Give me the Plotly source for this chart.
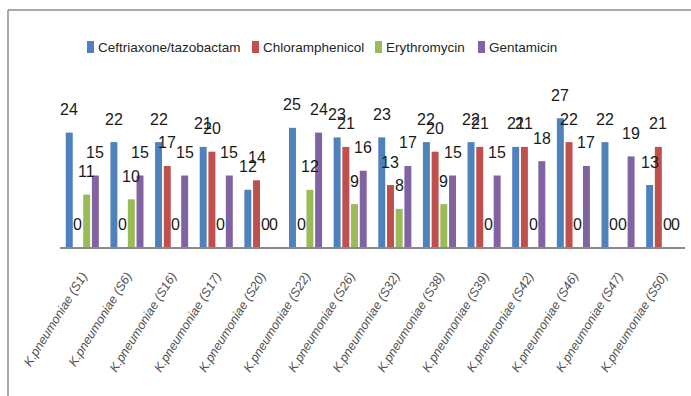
import plotly.graph_objects as go

# Isolates and zone-of-inhibition values (mm) per antibiotic
isolates = [
    "K.pneumoniae (S1)", "K.pneumoniae (S6)", "K.pneumoniae (S16)",
    "K.pneumoniae (S17)", "K.pneumoniae (S20)", "K.pneumoniae (S22)",
    "K.pneumoniae (S26)", "K.pneumoniae (S32)", "K.pneumoniae (S38)",
    "K.pneumoniae (S39)", "K.pneumoniae (S42)", "K.pneumoniae (S46)",
    "K.pneumoniae (S47)", "K.pneumoniae (S50)",
]
antibiotics = ["Ceftriaxone/tazobactam", "Chloramphenicol", "Erythromycin", "Gentamicin"]
ceftriaxone_tazobactam = [24, 22, 22, 21, 12, 25, 23, 23, 22, 22, 21, 27, 22, 13]
chloramphenicol = [0, 0, 17, 20, 14, 0, 21, 13, 20, 21, 21, 22, 0, 21]
erythromycin = [11, 10, 0, 0, 0, 12, 9, 8, 9, 0, 0, 0, 0, 0]
gentamicin = [15, 15, 15, 15, 0, 24, 16, 17, 15, 15, 18, 17, 19, 0]

series = [ceftriaxone_tazobactam, chloramphenicol, erythromycin, gentamicin]
colors = ["#4F81BD", "#C0504D", "#9BBB59", "#8064A2"]

FONT = "Liberation Sans, Arial, sans-serif"
BAR_GAP = 0.22
GROUP_GAP = 0.2

# plot-area geometry in pixels (used to place the legend and frame in paper units)
W, H = 691, 396
M_L, M_R, M_T, M_B = 60, 6, 104, 149
PW, PH = W - M_L - M_R, H - M_T - M_B


def px_x(px):
    return (px - M_L) / PW


def px_y(py):
    return (H - M_B - py) / PH


fig = go.Figure()
for name, vals, col in zip(antibiotics, series, colors):
    fig.add_trace(go.Bar(name=name, x=isolates, y=vals, marker_color=col,
                         marker_line_width=0, showlegend=False))

# value labels centred over each bar of the group
slot = (1 - BAR_GAP) / len(series)
annotations = []
for k, vals in enumerate(series):
    off = (k - (len(series) - 1) / 2) * slot
    for i, v in enumerate(vals):
        annotations.append(dict(
            x=i + off, y=v, xref="x", yref="y", text=str(v), showarrow=False,
            yanchor="middle", yshift=23,
            font=dict(family=FONT, size=16, color="#1a1a1a"),
        ))

# chart-area border (left and top edges)
frame = dict(type="line", xref="paper", yref="paper",
             line=dict(color="#8c8c8c", width=1.5))
shapes = [
    dict(frame, x0=px_x(8), x1=px_x(8), y0=px_y(10), y1=-1.3),
    dict(frame, x0=px_x(8), x1=1.3, y0=px_y(10), y1=px_y(10)),
]

# legend row: colour key + name
legend_left = [87, 252, 375, 478]
for name, col, lx in zip(antibiotics, colors, legend_left):
    shapes.append(dict(type="rect", xref="paper", yref="paper",
                       x0=px_x(lx), x1=px_x(lx + 7), y0=px_y(53), y1=px_y(41),
                       fillcolor=col, line_width=0))
    annotations.append(dict(x=px_x(lx + 9), y=px_y(47), xref="paper", yref="paper",
                            xanchor="left", yanchor="middle", showarrow=False,
                            text=name, font=dict(family=FONT, size=13.5, color="#262626")))

fig.update_layout(
    width=W, height=H,
    margin=dict(l=M_L, r=M_R, t=M_T, b=M_B),
    paper_bgcolor="white", plot_bgcolor="white",
    barmode="group", bargap=BAR_GAP, bargroupgap=GROUP_GAP,
    showlegend=False,
    annotations=annotations,
    shapes=shapes,
    xaxis=dict(type="category", range=[-0.5, len(isolates) - 0.5],
               showline=True, linecolor="#8a8a8a", linewidth=1.5,
               ticks="", tickangle=-58, showgrid=False, ticklabelstandoff=15,
               tickfont=dict(family=FONT, size=12.5, color="#505050", style="italic")),
    yaxis=dict(visible=False, range=[0, 30], showgrid=False, zeroline=False),
)

fig.write_html("out.html")
